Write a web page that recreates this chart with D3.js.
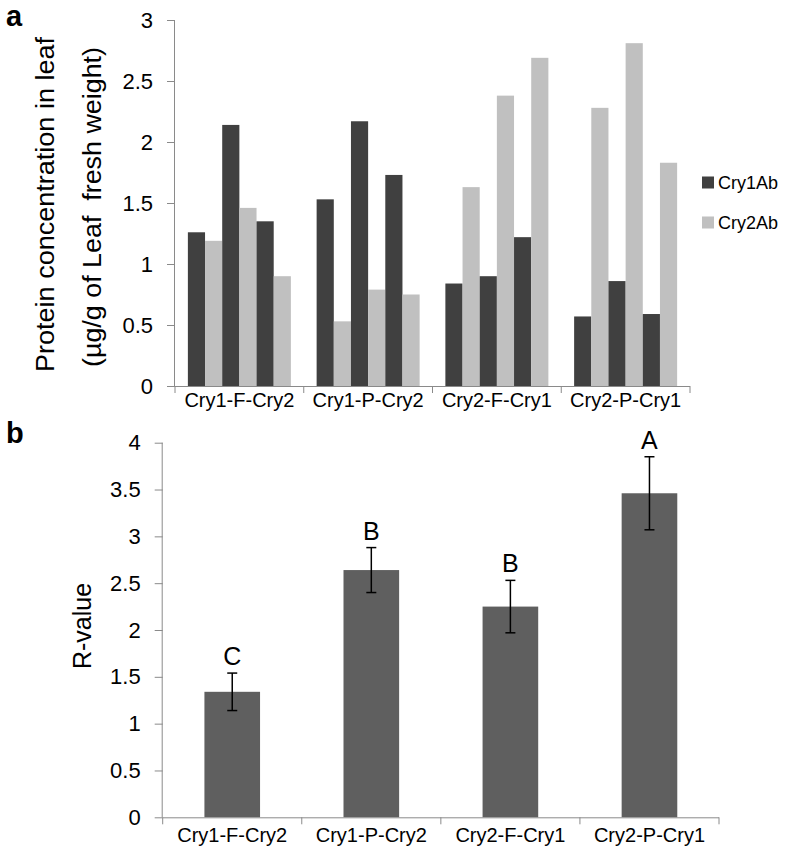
<!DOCTYPE html>
<html>
<head>
<meta charset="utf-8">
<script src="https://cdn.jsdelivr.net/npm/d3@7"></script>
<style>
  html, body { margin: 0; padding: 0; background: #fff; }
  svg { display: block; font-family: "Liberation Sans", Arial, sans-serif; }
  text { white-space: pre; }
</style>
</head>
<body>
<svg id="chart" width="792" height="855"></svg>
<script>
// ---------- DATA ----------
const categories = ["Cry1-F-Cry2", "Cry1-P-Cry2", "Cry2-F-Cry1", "Cry2-P-Cry1"];
const seriesNames = ["Cry1Ab", "Cry2Ab"];
// three replicate plants per cross, Cry1Ab and Cry2Ab each
const cry1ab = [[1.26, 2.14, 1.35], [1.53, 2.17, 1.73], [0.84, 0.90, 1.22], [0.57, 0.86, 0.59]];
const cry2ab = [[1.19, 1.46, 0.90], [0.53, 0.79, 0.75], [1.63, 2.38, 2.69], [2.28, 2.81, 1.83]];
const topTicks = [0, 0.5, 1, 1.5, 2, 2.5, 3];

const rValues = [1.34, 2.64, 2.25, 3.46];
const rErrors = [0.20, 0.24, 0.28, 0.39];
const rLetters = ["C", "B", "B", "A"];
const bottomTicks = [0, 0.5, 1, 1.5, 2, 2.5, 3, 3.5, 4];

// ---------- STYLE ----------
const darkCol = "#404040", lightCol = "#c0c0c0", rBarCol = "#5f5f5f", axisCol = "#8a8a8a";
const svg = d3.select("#chart");

// ================= PANEL a =================
const A = { left: 175, right: 690, top: 20, bottom: 386 };
const xA = d3.scaleBand().domain(categories).range([A.left, A.right]).paddingInner(0.2).paddingOuter(0.1);
const yA = d3.scaleLinear().domain([0, 3]).range([A.bottom, A.top]);

// flatten into bar records: dark, light, dark, light, dark, light
const barsA = [];
categories.forEach((c, i) => {
  for (let r = 0; r < 3; r++) {
    barsA.push({ cat: c, slot: r * 2, series: "Cry1Ab", value: cry1ab[i][r] });
    barsA.push({ cat: c, slot: r * 2 + 1, series: "Cry2Ab", value: cry2ab[i][r] });
  }
});
const xSub = d3.scaleBand().domain(d3.range(6)).range([0, xA.bandwidth()]).padding(0);
const colorA = d3.scaleOrdinal().domain(seriesNames).range([darkCol, lightCol]);

svg.append("g").selectAll("rect").data(barsA).join("rect")
  .attr("x", d => xA(d.cat) + xSub(d.slot))
  .attr("y", d => yA(d.value))
  .attr("width", xSub.bandwidth())
  .attr("height", d => yA(0) - yA(d.value))
  .attr("fill", d => colorA(d.series));

// y axis
const yAxisA = svg.append("g").attr("transform", `translate(${A.left},0)`)
  .call(d3.axisLeft(yA).tickValues(topTicks).tickSize(8).tickPadding(14).tickFormat(d => String(d)));
yAxisA.select(".domain").attr("stroke", axisCol).attr("d", `M-0.5,${A.top}V${A.bottom}`);
yAxisA.selectAll(".tick line").attr("stroke", axisCol);
yAxisA.selectAll(".tick text").attr("font-size", 22).attr("fill", "#000")
  .attr("font-family", "Liberation Sans, Arial, sans-serif");

// x axis
const xAxisA = svg.append("g").attr("transform", `translate(0,${A.bottom})`)
  .call(d3.axisBottom(xA).tickSize(0).tickPadding(7));
xAxisA.select(".domain").attr("stroke", axisCol).attr("d", `M${A.left},0.5H${A.right}`);
xAxisA.selectAll(".tick text").attr("font-size", 20).attr("fill", "#000")
  .attr("font-family", "Liberation Sans, Arial, sans-serif");
const bordersA = d3.range(categories.length + 1).map(i => A.left + i * xA.step());
xAxisA.selectAll("line.border").data(bordersA).join("line").attr("class", "border")
  .attr("x1", d => d).attr("x2", d => d).attr("y1", 0).attr("y2", 7).attr("stroke", axisCol);

// y title
const ytA = svg.append("g").attr("font-size", 25).attr("fill", "#000");
ytA.append("text").attr("transform", "translate(53.5,204.5) rotate(-90)").attr("text-anchor", "middle")
  .attr("textLength", 335).attr("lengthAdjust", "spacingAndGlyphs")
  .text("Protein concentration in leaf");
ytA.append("text").attr("transform", "translate(101,207) rotate(-90)").attr("text-anchor", "middle")
  .attr("textLength", 320).attr("lengthAdjust", "spacingAndGlyphs")
  .text("(µg/g of Leaf  fresh weight)");

// legend
const leg = svg.append("g").selectAll("g").data(seriesNames).join("g")
  .attr("transform", (d, i) => `translate(702,${176.5 + i * 40})`);
leg.append("rect").attr("width", 12).attr("height", 12).attr("fill", d => colorA(d));
leg.append("text").attr("x", 16).attr("y", 12.5).attr("font-size", 18).attr("fill", "#000").text(d => d);

// panel label
svg.append("text").attr("x", 6).attr("y", 26).attr("font-size", 29).attr("font-weight", "bold").text("a");

// ================= PANEL b =================
const B = { left: 162.7, right: 719, top: 442.7, bottom: 817.3 };
const xB = d3.scaleBand().domain(categories).range([B.left, B.right]).paddingInner(0.6).paddingOuter(0.3);
const yB = d3.scaleLinear().domain([0, 4]).range([B.bottom, B.top]);

const gB = svg.append("g");
gB.selectAll("rect").data(categories).join("rect")
  .attr("x", d => xB(d))
  .attr("y", (d, i) => yB(rValues[i]))
  .attr("width", xB.bandwidth())
  .attr("height", (d, i) => yB(0) - yB(rValues[i]))
  .attr("fill", rBarCol);

// error bars
const eb = gB.selectAll("g.err").data(categories).join("g").attr("class", "err")
  .attr("stroke", "#000").attr("stroke-width", 1.5);
eb.append("line")
  .attr("x1", d => xB(d) + xB.bandwidth() / 2).attr("x2", d => xB(d) + xB.bandwidth() / 2)
  .attr("y1", (d, i) => yB(rValues[i] + rErrors[i])).attr("y2", (d, i) => yB(rValues[i] - rErrors[i]));
[1, -1].forEach(s => {
  eb.append("line")
    .attr("x1", d => xB(d) + xB.bandwidth() / 2 - 5).attr("x2", d => xB(d) + xB.bandwidth() / 2 + 5)
    .attr("y1", (d, i) => yB(rValues[i] + s * rErrors[i])).attr("y2", (d, i) => yB(rValues[i] + s * rErrors[i]));
});
// significance letters
gB.selectAll("text.sig").data(categories).join("text").attr("class", "sig")
  .attr("x", d => xB(d) + xB.bandwidth() / 2)
  .attr("y", (d, i) => yB(rValues[i] + rErrors[i]) - 8)
  .attr("text-anchor", "middle").attr("font-size", 25).attr("fill", "#000")
  .text((d, i) => rLetters[i]);

// y axis
const yAxisB = svg.append("g").attr("transform", `translate(${B.left},0)`)
  .call(d3.axisLeft(yB).tickValues(bottomTicks).tickSize(8).tickPadding(14).tickFormat(d => String(d)));
yAxisB.select(".domain").attr("stroke", axisCol).attr("d", `M-0.5,${B.top}V${B.bottom}`);
yAxisB.selectAll(".tick line").attr("stroke", axisCol);
yAxisB.selectAll(".tick text").attr("font-size", 22).attr("fill", "#000")
  .attr("font-family", "Liberation Sans, Arial, sans-serif");

// x axis
const xAxisB = svg.append("g").attr("transform", `translate(0,${B.bottom})`)
  .call(d3.axisBottom(xB).tickSize(0).tickPadding(11));
xAxisB.select(".domain").attr("stroke", axisCol).attr("d", `M${B.left},0.5H${B.right}`);
xAxisB.selectAll(".tick text").attr("font-size", 20).attr("fill", "#000")
  .attr("font-family", "Liberation Sans, Arial, sans-serif");
const bordersB = d3.range(categories.length + 1).map(i => B.left + i * xB.step());
xAxisB.selectAll("line.border").data(bordersB).join("line").attr("class", "border")
  .attr("x1", d => d).attr("x2", d => d).attr("y1", 0).attr("y2", 7).attr("stroke", axisCol);

// y title
svg.append("text").attr("transform", "translate(91,626) rotate(-90)").attr("text-anchor", "middle")
  .attr("font-size", 25).attr("fill", "#000").text("R-value");

// panel label
svg.append("text").attr("x", 6).attr("y", 443).attr("font-size", 29).attr("font-weight", "bold").text("b");
</script>
</body>
</html>
